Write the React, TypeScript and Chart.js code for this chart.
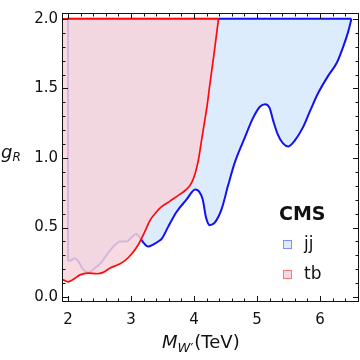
import React, { useEffect, useRef } from "react";
import { Chart, registerables } from "chart.js";

Chart.register(...registerables);

// ---- axes ----
const xTicks = [2, 3, 4, 5, 6];
const yTicks = [0, 0.5, 1.0, 1.5, 2.0];
const xMin = 1.905;
const xMax = 6.62;
const yMin = -0.035;
const yMax = 2.042;
const gTop = 2.0; // upper edge of the plotted coupling range

// ---- CMS dijet (jj) lower boundary ----
const jjMass = [2.0, 2.06, 2.11, 2.16, 2.24, 2.32, 2.43, 2.53, 2.64, 2.75, 2.83, 2.93, 3.01, 3.08, 3.13, 3.2, 3.27, 3.35, 3.45, 3.49, 3.59, 3.72, 3.88, 4.02, 4.08, 4.14, 4.19, 4.25, 4.33, 4.44, 4.54, 4.65, 4.81, 4.94, 5.05, 5.13, 5.2, 5.26, 5.33, 5.41, 5.5, 5.6, 5.73, 5.84, 5.97, 6.13, 6.27, 6.37, 6.45, 6.5];
const jjCoupling = [0.26, 0.267, 0.28, 0.26, 0.2, 0.178, 0.21, 0.25, 0.32, 0.377, 0.4, 0.4, 0.43, 0.454, 0.435, 0.39, 0.363, 0.377, 0.405, 0.42, 0.505, 0.61, 0.7, 0.774, 0.76, 0.7, 0.575, 0.517, 0.535, 0.634, 0.8, 0.97, 1.15, 1.29, 1.37, 1.387, 1.36, 1.265, 1.17, 1.107, 1.083, 1.125, 1.22, 1.335, 1.465, 1.59, 1.686, 1.8, 1.91, 2.0];
// jj region edges: top edge and left vertical edge
const jjEdgeMass = [6.5, 2.0, 2.0];
const jjEdgeCoupling = [2.0, 2.0, 0.26];

// ---- CMS tb lower boundary ----
const tbMass = [1.88, 1.92, 2.0, 2.08, 2.19, 2.32, 2.46, 2.56, 2.67, 2.8, 2.9, 3.01, 3.12, 3.22, 3.3, 3.41, 3.46, 3.62, 3.78, 3.88, 3.96, 4.02, 4.07, 4.12, 4.17, 4.21, 4.25, 4.31, 4.39];
const tbCoupling = [0.126, 0.124, 0.11, 0.126, 0.16, 0.173, 0.168, 0.178, 0.21, 0.234, 0.26, 0.31, 0.38, 0.47, 0.55, 0.615, 0.64, 0.69, 0.74, 0.774, 0.82, 0.89, 0.985, 1.125, 1.265, 1.38, 1.52, 1.72, 2.0];
const tbEdgeMass = [1.88, 4.39];
const tbEdgeCoupling = [2.0, 2.0];

const legendLabels = ["jj", "tb"];
const legendTitle = "CMS";

const BLUE = "rgb(18,18,240)";
const BLUE_FILL = "rgb(220,236,252)";
const RED = "rgb(255,10,10)";
const RED_FILL = "rgba(247,211,218,0.85)";
const FONT = "'DejaVu Sans', sans-serif";

const pts = (xs: number[], ys: number[]) => xs.map((x, i) => ({ x, y: ys[i] }));

const decorPlugin = {
  id: "decor",
  afterDatasetsDraw(chart: any) {
    const { ctx, chartArea: a, scales } = chart;
    const xs = scales.x;
    const ys = scales.y;
    ctx.save();
    ctx.strokeStyle = "#111";
    ctx.lineWidth = 1;
    // frame
    ctx.strokeRect(Math.round(a.left) + 0.5, Math.round(a.top) + 0.5, Math.round(a.right - a.left) - 1, Math.round(a.bottom - a.top) - 1);
    ctx.beginPath();
    // x ticks (major every 1, minor every 0.2)
    for (let i = Math.ceil(xMin / 0.2); i <= Math.floor(xMax / 0.2); i++) {
      const v = i * 0.2;
      const major = Math.abs(v - Math.round(v)) < 1e-6;
      const len = major ? 6 : 3.5;
      const px = Math.round(xs.getPixelForValue(v)) + 0.5;
      ctx.moveTo(px, a.bottom);
      ctx.lineTo(px, a.bottom - len);
      ctx.moveTo(px, a.top);
      ctx.lineTo(px, a.top + len);
    }
    // y ticks (major every 0.5, minor every 0.1)
    for (let i = Math.ceil(yMin / 0.1); i <= Math.floor(yMax / 0.1); i++) {
      const v = i * 0.1;
      const major = Math.abs(v * 2 - Math.round(v * 2)) < 1e-6;
      const len = major ? 6 : 3.5;
      const py = Math.round(ys.getPixelForValue(v)) + 0.5;
      ctx.moveTo(a.left, py);
      ctx.lineTo(a.left + len, py);
      ctx.moveTo(a.right, py);
      ctx.lineTo(a.right - len, py);
    }
    ctx.stroke();
    ctx.restore();
  },
  afterDraw(chart: any) {
    const { ctx, chartArea: a } = chart;
    ctx.save();
    ctx.fillStyle = "#111";
    ctx.textBaseline = "alphabetic";
    ctx.textAlign = "left";
    // x-axis title: M_W'(TeV)
    const bx = 162;
    const by = a.bottom + 46;
    ctx.font = `italic 18px ${FONT}`;
    ctx.fillText("M", bx, by);
    const mW = ctx.measureText("M").width;
    ctx.font = `italic 13px ${FONT}`;
    ctx.fillText("W", bx + mW, by + 4);
    const wW = ctx.measureText("W").width;
    ctx.font = `13px ${FONT}`;
    ctx.fillText("′", bx + mW + wW, by + 4);
    const pW = ctx.measureText("′").width;
    ctx.font = `18px ${FONT}`;
    ctx.fillText("(TeV)", bx + mW + wW + pW + 1, by);
    // y-axis title: g_R
    const gy = 158;
    ctx.font = `italic 18px ${FONT}`;
    ctx.fillText("g", 1, gy);
    const gW = ctx.measureText("g").width;
    ctx.font = `italic 12px ${FONT}`;
    ctx.fillText("R", 1 + gW, gy + 3);
    // legend
    const lx = 279;
    ctx.font = `bold 19px ${FONT}`;
    ctx.fillText(legendTitle, lx, 220);
    const entries = [
      { label: legendLabels[0], fill: BLUE_FILL, stroke: "rgb(130,140,250)", y: 240 },
      { label: legendLabels[1], fill: "rgb(248,216,222)", stroke: "rgb(250,120,120)", y: 270 },
    ];
    ctx.font = `17px ${FONT}`;
    for (const e of entries) {
      ctx.fillStyle = e.fill;
      ctx.fillRect(lx + 4, e.y, 9, 9);
      ctx.strokeStyle = e.stroke;
      ctx.lineWidth = 1;
      ctx.strokeRect(lx + 4.5, e.y + 0.5, 8, 8);
      ctx.fillStyle = "#111";
      ctx.fillText(e.label, lx + 25, e.y + 9);
    }
    ctx.restore();
  },
};

export default function App() {
  const ref = useRef<HTMLCanvasElement>(null);
  useEffect(() => {
    document.body.style.margin = "0";
    const chart = new Chart(ref.current as HTMLCanvasElement, {
      type: "line",
      data: {
        datasets: [
          {
            label: "tb-edge",
            data: pts(tbEdgeMass, tbEdgeCoupling),
            borderColor: RED,
            borderWidth: 1.8,
            pointRadius: 0,
            fill: false,
          },
          {
            label: "tb",
            data: pts(tbMass, tbCoupling),
            borderColor: RED,
            borderWidth: 1.7,
            backgroundColor: RED_FILL,
            pointRadius: 0,
            cubicInterpolationMode: "monotone",
            fill: { value: gTop },
          },
          {
            label: "jj-edge",
            data: pts(jjEdgeMass, jjEdgeCoupling),
            borderColor: BLUE,
            borderWidth: 2,
            pointRadius: 0,
            fill: false,
          },
          {
            label: "jj",
            data: pts(jjMass, jjCoupling),
            borderColor: BLUE,
            borderWidth: 2,
            backgroundColor: BLUE_FILL,
            pointRadius: 0,
            cubicInterpolationMode: "monotone",
            fill: { value: gTop },
          },
        ] as any,
      },
      options: {
        responsive: false,
        maintainAspectRatio: false,
        animation: false,
        devicePixelRatio: 1,
        layout: { padding: { left: 0, right: 1, top: 6, bottom: 0 } },
        plugins: {
          legend: { display: false },
          tooltip: { enabled: false },
          filler: { propagate: false, drawTime: "beforeDatasetDraw" },
        } as any,
        scales: {
          x: {
            type: "linear",
            min: xMin,
            max: xMax,
            grid: { display: false, drawTicks: false, tickLength: 0 },
            border: { display: false },
            afterBuildTicks: (s: any) => {
              s.ticks = xTicks.map((v) => ({ value: v }));
            },
            afterFit: (s: any) => {
              s.height = 58;
            },
            ticks: {
              padding: 9,
              color: "#111",
              font: { family: FONT, size: 15 },
              maxRotation: 0,
              callback: (v: any) => String(v),
            },
          },
          y: {
            type: "linear",
            min: yMin,
            max: yMax,
            grid: { display: false, drawTicks: false, tickLength: 0 },
            border: { display: false },
            afterBuildTicks: (s: any) => {
              s.ticks = yTicks.map((v) => ({ value: v }));
            },
            afterFit: (s: any) => {
              s.width = 62;
            },
            ticks: {
              padding: 4,
              color: "#111",
              font: { family: FONT, size: 15 },
              callback: (v: any) => Number(v).toFixed(1),
            },
          },
        },
      },
      plugins: [decorPlugin],
    });
    return () => chart.destroy();
  }, []);
  return (
    <div style={{ width: 360, height: 360 }}>
      <canvas ref={ref} width={360} height={360} style={{ display: "block" }} />
    </div>
  );
}
